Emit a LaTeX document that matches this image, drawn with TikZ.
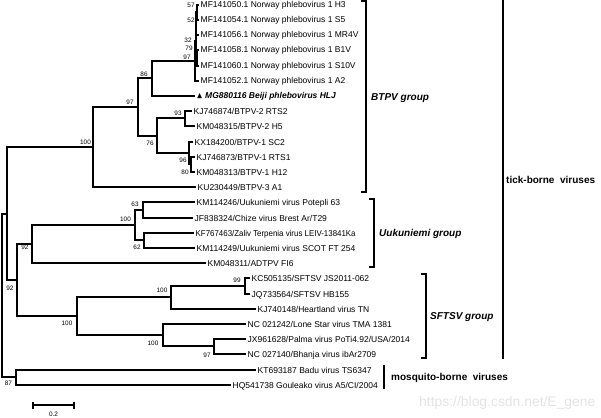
\documentclass[tikz,border=0pt]{standalone}
\usepackage{amsmath,amssymb}
\usepackage{fontspec}
\setmainfont{Liberation Sans}
\usetikzlibrary{arrows.meta,positioning}

\begin{document}
\begin{tikzpicture}[x=1pt,y=-1pt,
  br/.style={line width=1.6pt},
  leaf/.style={anchor=west,inner sep=1.5pt,text height=6pt,text depth=0pt,font=\fontsize{8.5}{10}\selectfont},
  bs/.style={inner sep=0pt,font=\fontsize{6.4}{7}\selectfont},
  grp/.style={line width=2pt},
  grplabel/.style={anchor=west,inner sep=0pt,text height=7.2pt,text depth=0pt,font=\fontsize{10}{12}\selectfont\bfseries\itshape},
  hostlabel/.style={anchor=west,inner sep=0pt,text height=7.2pt,text depth=0pt,font=\fontsize{10}{12}\selectfont\bfseries}]
  \useasboundingbox (0,0) rectangle (601,417);

  \node[leaf] (t1) at (199,5) {MF141050.1 Norway phlebovirus 1 H3};
  \node[leaf] (t2) at (199,20) {MF141054.1 Norway phlebovirus 1 S5};
  \node[leaf] (t3) at (199,35) {MF141056.1 Norway phlebovirus 1 MR4V};
  \node[leaf] (t4) at (199,50) {MF141058.1 Norway phlebovirus 1 B1V};
  \node[leaf] (t5) at (199,66) {MF141060.1 Norway phlebovirus 1 S10V};
  \node[leaf] (t6) at (199,81) {MF141052.1 Norway phlebovirus 1 A2};
  \node[leaf] (t7) at (195,96) {$\blacktriangle$ \textbf{\textit{MG880116 Beiji phlebovirus HLJ}}};
  \node[leaf] (t8) at (192,111) {KJ746874/BTPV-2 RTS2};
  \node[leaf] (t9) at (195,126) {KM048315/BTPV-2 H5};
  \node[leaf] (t10) at (193,142) {KX184200/BTPV-1 SC2};
  \node[leaf] (t11) at (195,157) {KJ746873/BTPV-1 RTS1};
  \node[leaf] (t12) at (195,172) {KM048313/BTPV-1 H12};
  \node[leaf] (t13) at (196,187) {KU230449/BTPV-3 A1};
  \node[leaf] (t14) at (195,202) {KM114246/Uukuniemi virus Potepli 63};
  \node[leaf] (t15) at (193,218) {JF838324/Chize virus Brest Ar/T29};
  \node[leaf] (t16) at (194,233) {\scalebox{0.93}[1]{KF767463/Zaliv Terpenia virus LEIV-13841Ka}};
  \node[leaf] (t17) at (195,248) {KM114249/Uukuniemi virus SCOT FT 254};
  \node[leaf] (t18) at (206,263) {KM048311/ADTPV FI6};
  \node[leaf] (t19) at (250,278) {KC505135/SFTSV JS2011-062};
  \node[leaf] (t20) at (250,294) {JQ733564/SFTSV HB155};
  \node[leaf] (t21) at (256,309) {KJ740148/Heartland virus TN};
  \node[leaf] (t22) at (246,324) {NC 021242/Lone Star virus TMA 1381};
  \node[leaf] (t23) at (246,339) {JX961628/Palma virus PoTi4.92/USA/2014};
  \node[leaf] (t24) at (246,354) {NC 027140/Bhanja virus ibAr2709};
  \node[leaf] (t25) at (256,370) {KT693187 Badu virus TS6347};
  \node[leaf] (t26) at (231,385) {HQ541738 Gouleako virus A5/CI/2004};

  \coordinate (n57) at (197,12);
  \coordinate (n52) at (196,24);
  \coordinate (n79) at (197,58);
  \coordinate (n32) at (196,41);
  \coordinate (n97a) at (195,61);
  \coordinate (n86) at (152,78);
  \coordinate (n93) at (185,118);
  \coordinate (n80) at (191,164);
  \coordinate (n96) at (189,153);
  \coordinate (n76) at (157,136);
  \coordinate (n97b) at (138,107);
  \coordinate (n100a) at (93,147);
  \coordinate (n63) at (143,210);
  \coordinate (n62) at (144,240);
  \coordinate (n100b) at (135,225);
  \coordinate (n92a) at (32,244);
  \coordinate (n99) at (245,286);
  \coordinate (n100c) at (171,297);
  \coordinate (n97c) at (214,346);
  \coordinate (n100d) at (163,335);
  \coordinate (n100e) at (77,316);
  \coordinate (n92b) at (17,280);
  \coordinate (ntick) at (7,214);
  \coordinate (n87) at (16,377);
  \coordinate (root) at (2,296);

  \foreach \p/\c in {n57/t1,n57/t2,n52/t3,n79/t4,n79/t5,n97a/t6,n86/t7,n93/t8,n93/t9,
      n96/t10,n80/t11,n80/t12,n100a/t13,n63/t14,n63/t15,n62/t16,n62/t17,n92a/t18,
      n99/t19,n99/t20,n100c/t21,n100d/t22,n97c/t23,n97c/t24,n87/t25,n87/t26}
    \draw[br] (\p) |- (\c.west);
  \foreach \p/\c in {n52/n57,n32/n52,n32/n79,n97a/n32,n86/n97a,n97b/n86,n97b/n76,
      n76/n93,n76/n96,n96/n80,n100a/n97b,ntick/n100a,n100b/n63,n100b/n62,n92a/n100b,
      n92b/n92a,n92b/n100e,n100e/n100c,n100e/n100d,n100c/n99,n100d/n97c,ntick/n92b,
      root/ntick,root/n87}
    \draw[br] (\p) |- (\c);

  \node[bs] (b57) at (191,5.5) {57};
  \node[bs] (b52) at (191,20.5) {52};
  \node[bs] (b32) at (188,40) {32};
  \node[bs] (b79) at (189,48) {79};
  \node[bs] (b97a) at (187,57) {97};
  \node[bs] (b86) at (144,74) {86};
  \node[bs] (b97b) at (130,102) {97};
  \node[bs] (b100a) at (85.5,142) {100};
  \node[bs] (b93) at (178,113) {93};
  \node[bs] (b76) at (150,143) {76};
  \node[bs] (b96) at (183,160) {96};
  \node[bs] (b80) at (185,172) {80};
  \node[bs] (b63) at (135,204) {63};
  \node[bs] (b100b) at (125.5,219.5) {100};
  \node[bs] (b62) at (137,247) {62};
  \node[bs] (b92a) at (25,247) {92};
  \node[bs] (b92b) at (10,288) {92};
  \node[bs] (b100e) at (67,323) {100};
  \node[bs] (b100c) at (162,290.5) {100};
  \node[bs] (b99) at (237,280) {99};
  \node[bs] (b100d) at (153,343) {100};
  \node[bs] (b97c) at (207,355) {97};
  \node[bs] (b87) at (8.5,383.5) {87};

  \draw[br,{Bar[width=7pt]}-{Bar[width=7pt]}] (32,405) coordinate (sa) -- (75,405) coordinate (sb);
  \node[bs] (sl) at (53.5,414) {0.2};

  \draw[grp] (361,1) -| (366,192) -- (361,192);
  \node[grplabel] (btpv) at (371,97) {BTPV group};
  \draw[grp] (369,199) -| (374,267) -- (369,267);
  \node[grplabel] (uuk) at (379,233) {Uukuniemi group};
  \draw[grp] (421,274) -| (426,358) -- (421,358);
  \node[grplabel] (sftsv) at (430,316) {SFTSV group};
  \draw[grp] (503,0) -- (503,359);
  \node[hostlabel] (tick) at (506,180) {tick-borne\ \ viruses};
  \draw[grp] (384,365) -- (384,389);
  \node[hostlabel] (mosq) at (391,377) {mosquito-borne\ \ viruses};

  \node[anchor=west,inner sep=0pt,text=gray!22,font=\fontsize{13.9}{15}\selectfont] (wm) at (419,403) {https://blog.csdn.net/E\_gene};
\end{tikzpicture}
\end{document}
